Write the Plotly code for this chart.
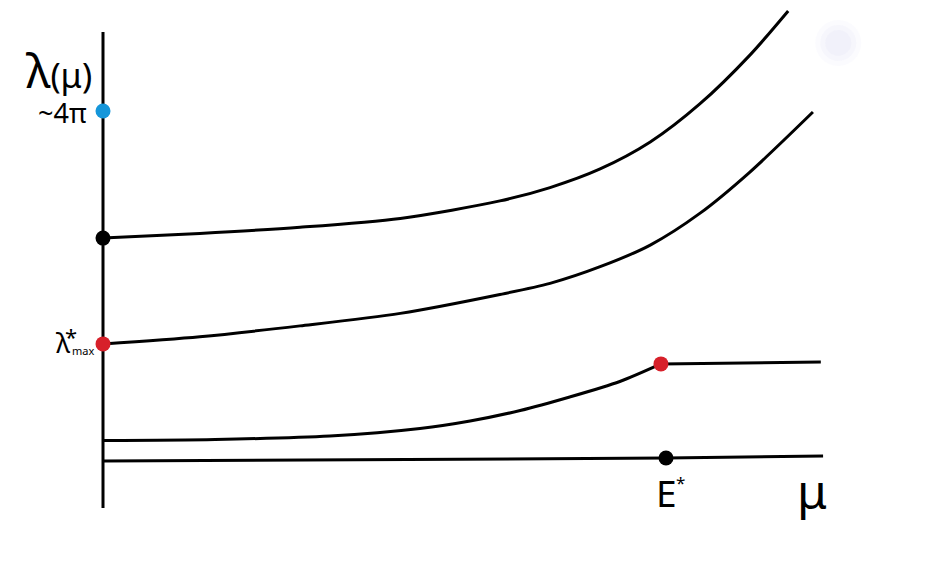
import plotly.graph_objects as go

# ---- data (mu, lambda) ----
mu_upper = [0, 1.72, 3.5, 5.28, 7.05, 7.94, 8.83, 9.72, 10.6, 11.49, 12.17]
lam_upper = [7.99, 8.16, 8.38, 8.70, 9.33, 9.81, 10.48, 11.45, 12.82, 14.58, 16.17]

mu_mid = [0, 1.72, 3.5, 5.28, 7.05, 7.94, 8.83, 9.72, 10.6, 11.49, 12.61]
lam_mid = [4.18, 4.44, 4.83, 5.28, 5.96, 6.36, 6.96, 7.74, 8.88, 10.37, 12.53]

mu_low = [0, 1.99, 4.03, 5.63, 6.52, 7.41, 8.29, 9.18, 9.91]
lam_low = [0.70, 0.738, 0.864, 1.134, 1.404, 1.782, 2.269, 2.827, 3.46]

mu_flat = [9.91, 12.75]
lam_flat = [3.46, 3.53]

mu_base = [0, 10, 12.79]
lam_base = [-0.04, 0.07, 0.14]

mu_axis = [0, 0]
lam_axis = [-1.73, 15.41]

E_star = 10
lam_4pi = 12.57
lam_max = 4.18
lam_top0 = 7.99
mu_kink = 9.91
lam_kink = 3.46

BLACK = "#000000"
RED = "#d7202a"
BLUE = "#1596da"

fig = go.Figure()

def line(x, y, shape="spline"):
    fig.add_trace(go.Scatter(x=x, y=y, mode="lines",
                             line=dict(color=BLACK, width=3, shape=shape, smoothing=0.8),
                             hoverinfo="skip", showlegend=False))

line(mu_axis, lam_axis, "linear")
line(mu_upper, lam_upper)
line(mu_mid, lam_mid)
line(mu_low, lam_low)
line(mu_flat, lam_flat, "linear")
line(mu_base, lam_base)

# faint blurred spot (top right)
for s, op in [(46, 0.2), (36, 0.3), (26, 0.4)]:
    fig.add_trace(go.Scatter(x=[13.06], y=[15.02], mode="markers",
                             marker=dict(size=s, color="#ececf8", opacity=op, line=dict(width=0)),
                             hoverinfo="skip", showlegend=False))

# dots
fig.add_trace(go.Scatter(
    x=[0, 0, 0, mu_kink, E_star],
    y=[lam_4pi, lam_top0, lam_max, lam_kink, 0.07],
    mode="markers",
    marker=dict(size=15, color=[BLUE, BLACK, RED, RED, BLACK], line=dict(width=0)),
    hoverinfo="skip", showlegend=False))

FONT = "Noto Sans"
W, H = 937, 564

def txt(px, py, text, size, xanchor="center", yanchor="middle"):
    fig.add_annotation(x=px / W, y=1 - py / H, xref="paper", yref="paper",
                       text=text, showarrow=False, xanchor=xanchor, yanchor=yanchor,
                       font=dict(family=FONT, size=size, color=BLACK))

txt(24, 70, "<span style='font-size:47px'>λ</span>(μ)", 34, xanchor="left")
txt(89, 112, "~4π", 27, xanchor="right")
txt(73, 342, "λ", 27, xanchor="right")
txt(71, 336, "*", 22)
txt(70, 350, "max", 11, xanchor="left")
txt(666, 492, "E", 37)
txt(680, 482, "*", 17)
txt(812, 490, "μ", 48)

x0, sx = 103, 56.3
y0, sy = 460, 27.77
fig.update_layout(
    width=W, height=H,
    margin=dict(l=0, r=0, t=0, b=0),
    paper_bgcolor="white", plot_bgcolor="white",
    xaxis=dict(range=[(0 - x0) / sx, (W - x0) / sx], visible=False, fixedrange=True),
    yaxis=dict(range=[(y0 - H) / sy, (y0 - 0) / sy], visible=False, fixedrange=True),
)

fig.write_html("out.html", config={"displayModeBar": False},
               post_script="document.body.style.margin='0';document.body.style.overflow='hidden';")
